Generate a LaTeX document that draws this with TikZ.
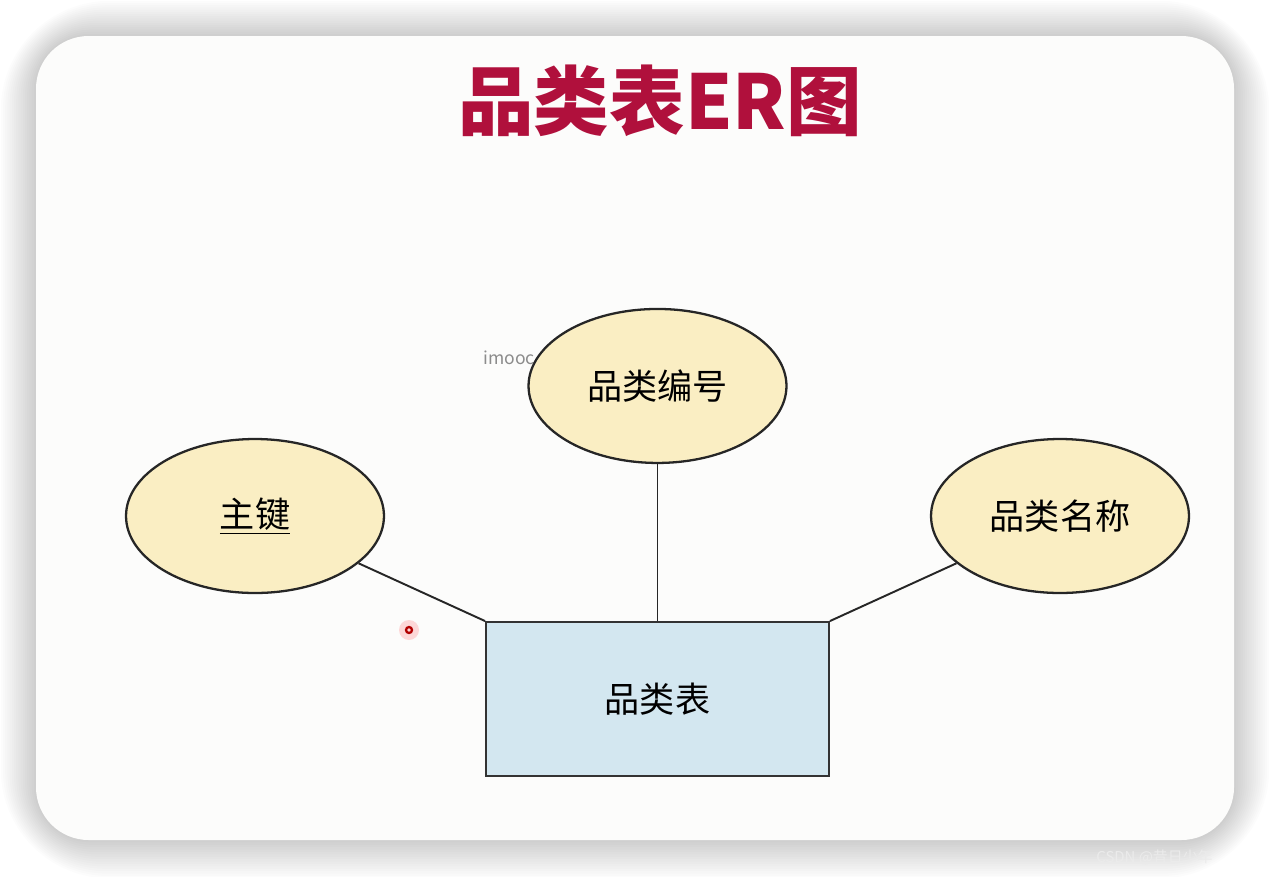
\documentclass[tikz,border=0pt]{standalone}
\usepackage{fontspec}
\setmainfont{Noto Sans CJK SC}
\usepackage{tikz}
\usetikzlibrary{positioning, shapes.geometric}

\definecolor{titlered}{HTML}{B0103C}
\definecolor{attrfill}{HTML}{FAEEC3}
\definecolor{tblfill}{HTML}{D3E7F0}
\definecolor{cardbg}{HTML}{FCFCFB}

\begin{document}
\begin{tikzpicture}[x=0.02cm, y=-0.02cm,
                attr/.style={draw=black!85, line width=1.3pt, ellipse, fill=attrfill, minimum width=5.16cm, minimum height=3.08cm, inner sep=0pt, font=\fontsize{20}{24}\selectfont},
                entity/.style={draw=black!80, line width=1.1pt, rectangle, fill=tblfill, minimum width=6.86cm, minimum height=3.08cm, font=\fontsize{20}{24}\selectfont},
                edge/.style={draw=black!85, line width=1.1pt},
                marktext/.style={font=\fontsize{10}{12}\selectfont}
            ]

            \useasboundingbox (0,0) rectangle (1270,876);
            \fill[white] (0,0) rectangle (1270,876);

            % Karte mit Schatten
            \foreach \i in {1,...,16}
                \fill[black, opacity=0.012, rounded corners=30+\i*2] (36-\i*2.2,36-\i*2.2) rectangle (1234+\i*2.2,840+\i*2.4);
            \fill[cardbg, rounded corners=30] (36,36) rectangle (1234,840);

            % Titel
            \node[text=titlered, font=\fontsize{43}{48}\selectfont\bfseries] (title) at (660,101) {品类表ER图};

            % Knoten
            \node[entity] (tbl) at (657.5,699) {品类表};
            \node[attr, above=3.14cm of tbl] (catid) {品类编号};
            \node[attr] (pk) at (255,516) {\underline{主键}};
            \node[attr] (catname) at (1060,516) {品类名称};

            % Kanten zwischen Knoten
            \draw[edge] (catid) -- (tbl);
            \draw[edge] (pk) -- (tbl.north west);
            \draw[edge] (catname) -- (tbl.north east);

            % Wasserzeichen und Zeiger
            \node[text=black!45, marktext, anchor=west, inner sep=0pt] (imooc) at (483,358) {imooc};
            \fill[red!25, opacity=0.6] (409,630) circle (10);
            \draw[red!70!black, line width=1.3pt] (409,630) circle (3);
            \node[text=white!92!black, font=\fontsize{8.5}{10}\selectfont, anchor=west, inner sep=0pt] (csdn) at (1096,857) {CSDN @昔日少年};

        \end{tikzpicture}
\end{document}
